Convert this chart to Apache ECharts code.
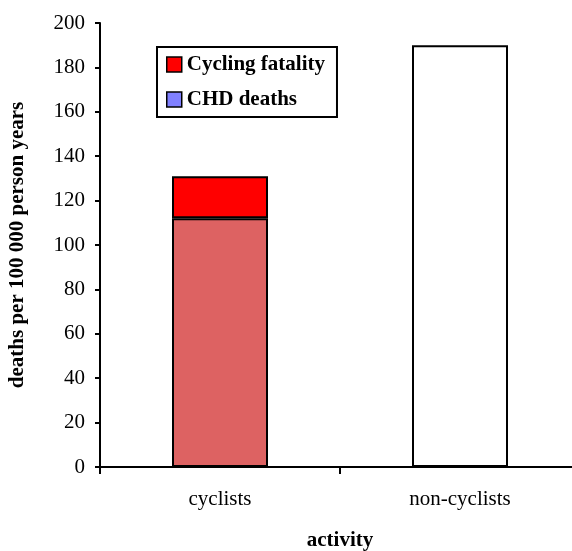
<!DOCTYPE html>
<html>
<head>
<meta charset="utf-8">
<script src="https://cdn.jsdelivr.net/npm/echarts@6/dist/echarts.min.js"></script>
<style>
  html, body { margin: 0; padding: 0; background: #fff; }
  #main { width: 572px; height: 551px; }
</style>
</head>
<body>
<div id="main"></div>
<script>
  var categories = ['cyclists', 'non-cyclists']
  var chdDeaths = [112, '-']
  var cyclingFatality = [19, '-']
  var nonCyclists = ['-', 190]

  var chart = echarts.init(document.getElementById('main'))
  var font = 'Liberation Serif, Times New Roman, serif'
  chart.setOption({
    backgroundColor: '#fff',
    animation: false,
    textStyle: { fontFamily: font },
    grid: { left: 100, right: -8, top: 23, bottom: 84, outerBoundsMode: 'none', containLabel: false },
    legend: {
      orient: 'vertical',
      left: 157,
      top: 47,
      padding: [7, 12, 7, 9],
      itemGap: 14,
      itemWidth: 15,
      itemHeight: 15,
      borderColor: '#000',
      borderWidth: 2,
      icon: 'rect',
      textStyle: { fontFamily: font, fontWeight: 'bold', fontSize: 21, color: '#000' },
      data: [
        { name: 'Cycling fatality', itemStyle: { color: '#ff0000', borderColor: '#000', borderWidth: 1.5 } },
        { name: 'CHD deaths', itemStyle: { color: '#8080ff', borderColor: '#000', borderWidth: 1.5 } }
      ]
    },
    xAxis: {
      type: 'category',
      data: categories,
      name: 'activity',
      nameLocation: 'middle',
      nameGap: 63,
      nameTextStyle: { fontFamily: font, fontWeight: 'bold', fontSize: 21, color: '#000' },
      axisLine: { lineStyle: { color: '#000', width: 2 } },
      axisTick: { show: true, length: 7, lineStyle: { color: '#000', width: 2 } },
      axisLabel: { fontFamily: font, fontSize: 21, color: '#000', margin: 22 }
    },
    yAxis: {
      type: 'value',
      min: 0,
      max: 200,
      interval: 20,
      name: 'deaths per 100 000 person years',
      nameLocation: 'middle',
      nameGap: 72,
      nameTextStyle: { fontFamily: font, fontWeight: 'bold', fontSize: 21, color: '#000' },
      splitLine: { show: false },
      axisLine: { show: true, lineStyle: { color: '#000', width: 2 } },
      axisTick: { show: true, length: 5, lineStyle: { color: '#000', width: 2 } },
      axisLabel: { fontFamily: font, fontSize: 21, color: '#000', margin: 15 }
    },
    series: [{
      name: 'CHD deaths',
      type: 'bar',
      stack: 'total',
      barWidth: '40%',
      itemStyle: { color: '#dd6262', borderColor: '#000', borderWidth: 2 },
      data: chdDeaths
    }, {
      name: 'Cycling fatality',
      type: 'bar',
      stack: 'total',
      barWidth: '40%',
      itemStyle: { color: '#ff0000', borderColor: '#000', borderWidth: 2 },
      data: cyclingFatality
    }, {
      name: 'non-cyclists',
      type: 'bar',
      stack: 'total',
      barWidth: '40%',
      itemStyle: { color: '#fff', borderColor: '#000', borderWidth: 2 },
      data: nonCyclists
    }]
  })
</script>
</body>
</html>
